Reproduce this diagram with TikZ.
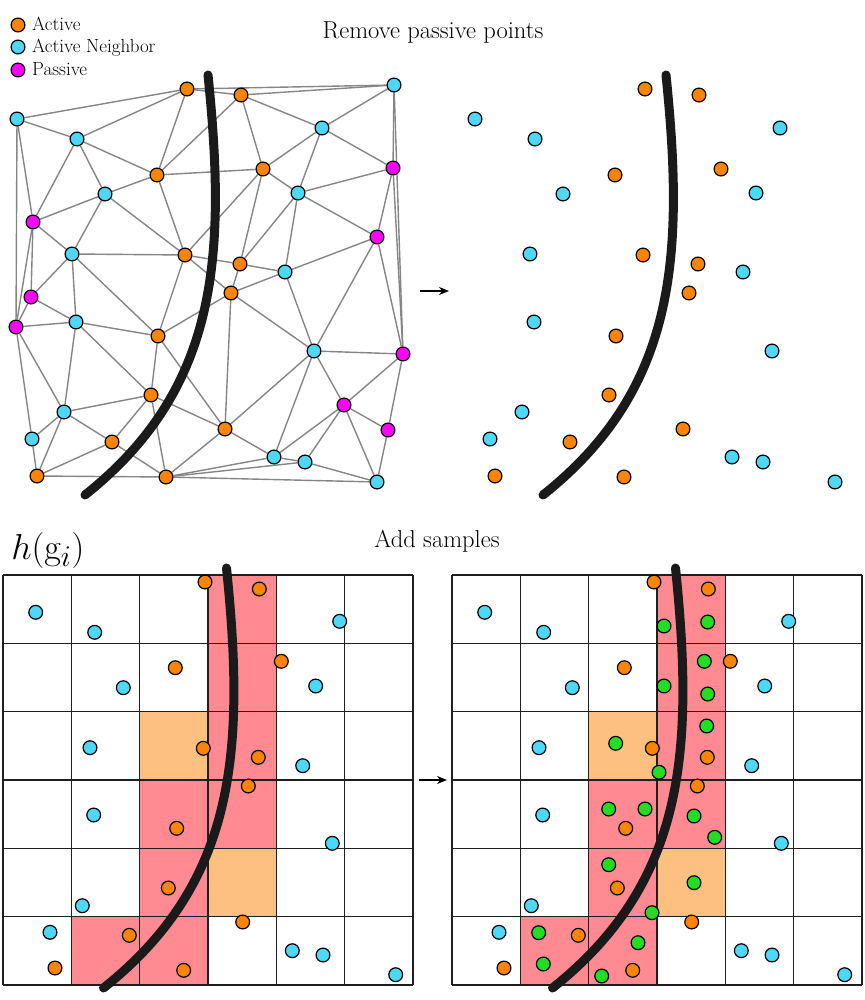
\documentclass[tikz,border=0pt]{standalone}
\usetikzlibrary{arrows.meta,backgrounds}
\definecolor{actc}{HTML}{FF8500}
\definecolor{nbc}{HTML}{4DD8F8}
\definecolor{pasc}{HTML}{FF00FF}
\definecolor{newc}{HTML}{22DD22}
\definecolor{hot}{HTML}{FF8A91}
\definecolor{warm}{HTML}{FEC080}
\definecolor{edgec}{HTML}{858585}
\definecolor{curvec}{HTML}{1A1A1A}
\newcommand\ttlfont{\fontsize{24.5}{29}\selectfont}
\newcommand\legfont{\fontsize{19}{23}\selectfont}
\tikzset{
 pt/.style={circle,draw=black,line width=1.2pt,minimum size=13.8pt,inner sep=0pt},
 act/.style={pt,fill=actc}, nb/.style={pt,fill=nbc}, pas/.style={pt,fill=pasc}, nw/.style={pt,fill=newc},
 edge/.style={draw=edgec,line width=1.4pt},
 bound/.style={draw=curvec,line width=9pt,line cap=round},
 gline/.style={draw=black!88,line width=1.6pt},
 flow/.style={-{Stealth[length=10pt,width=8pt]},line width=1.3pt},
}
\begin{document}
\begin{tikzpicture}[x=1pt,y=-1pt]
\useasboundingbox (0,0) rectangle (864,1000);
% titles and legend
\node[anchor=base] (t1) at (433,39) {\ttlfont Remove passive points};
\node[anchor=base] (t2) at (437,547) {\ttlfont Add samples};
\node[anchor=base west,inner sep=0pt,scale=1.45] (hg) at (11,559) {\fontsize{24.88}{30}\selectfont$h(\mathrm{g}_i)$};
\node[act] (L1) at (18,25) {};
\node[nb] (L2) at (18,47) {};
\node[pas] (L3) at (18,70) {};
\node[anchor=base west,inner sep=0pt] (L1t) at (32,31) {\legfont Active};
\node[anchor=base west,inner sep=0pt] (L2t) at (32,53) {\legfont Active Neighbor};
\node[anchor=base west,inner sep=0pt] (L3t) at (32,76) {\legfont Passive};
% top-left mesh nodes and top-right points
\foreach \n/\x/\y in {A1/187/89,A2/241/95,A3/157/175,A4/263/169,A5/185/255,A6/240/264,A7/231/293,A8/158/336,A9/151/395,A10/112/442,A11/37/476,A12/166/477,A13/225/429}
  {\node[act] (\n) at (\x,\y) {}; \node[act] (r\n) at ({\x+458},\y) {};}
\node[nb] (C1) at (394,85) {};
\foreach \n/\x/\y in {C2/17/119,C3/77/139,C4/322/128,C5/105/194,C6/298/193,C7/72/254,C8/285/272,C9/76/322,C10/314/351,C11/64/412,C12/32/439,C13/274/457,C14/305/462,C15/377/482}
  {\node[nb] (\n) at (\x,\y) {}; \node[nb] (r\n) at ({\x+458},\y) {};}
\foreach \n/\x/\y in {M1/393/168,M2/33/222,M3/377/237,M4/31/297,M5/16/327,M6/403/354,M7/344/405,M8/388/430}
  {\node[pas] (\n) at (\x,\y) {};}
\begin{pgfonlayer}{background}
\foreach \a/\b in {A1/C2,A1/C3,A1/A3,A1/A2,A1/C1,A2/C1,A2/C4,A2/A4,A2/A3,A3/A4,A3/A5,A3/C3,A3/C5,
  A4/C4,A4/C6,A4/A6,A4/A5,A5/C5,A5/C7,A5/A6,A5/A7,A5/A8,A6/A7,A6/C6,A6/C8,A7/C8,A7/C10,A7/A13,A7/A8,
  A8/C7,A8/C9,A8/A9,A8/A13,A9/C9,A9/C11,A9/A10,A9/A12,A9/A13,A10/C11,A10/A11,A10/A12,A11/C11,A11/C12,A11/A12,
  A12/A13,A12/C13,A12/C14,A12/C15,A13/C10,A13/C13,C1/C4,C1/M1,C1/M6,C2/C3,C2/M2,C2/M5,C3/C5,C3/M2,C4/C6,C4/M1,
  C5/M2,C5/C7,C6/C8,C6/M1,C6/M3,C7/M2,C7/M4,C7/C9,C8/C10,C8/M3,C9/M4,C9/M5,C9/C11,C10/M3,C10/M6,C10/M7,C10/C13,
  C11/M5,C11/C12,C12/M5,C13/C14,C13/M7,C14/C15,C14/M7,C15/M7,C15/M8,M1/M3,M1/M6,M2/M4,M2/M5,M3/M6,M4/M5,M6/M7,M6/M8,M7/M8}
  {\draw[edge] (\a) -- (\b);}
\draw[bound] (208,75) .. controls (227,260) and (217,390) .. (85,495);
\draw[bound] (666,75) .. controls (685,260) and (675,390) .. (543,495);
% bottom grids
\foreach \gx in {3,452}{
  \foreach \c/\r in {3/0,3/1,3/2,3/3,2/3,2/4,2/5,1/5}
    {\fill[hot] ({\gx+\c*68.333},{575+\r*68.333}) rectangle ++(68.333,68.333);}
  \foreach \c/\r in {2/2,3/4}
    {\fill[warm] ({\gx+\c*68.333},{575+\r*68.333}) rectangle ++(68.333,68.333);}
  \foreach \i in {0,...,6}
    {\draw[gline] ({\gx+\i*68.333},575) -- ({\gx+\i*68.333},985);
     \draw[gline] (\gx,{575+\i*68.333}) -- ({\gx+410},{575+\i*68.333});}
}
\draw[bound] (226.5,568) .. controls (245.5,753) and (235.5,883) .. (103.5,988);
\draw[bound] (675.5,568) .. controls (694.5,753) and (684.5,883) .. (552.5,988);
\end{pgfonlayer}
% bottom points
\foreach \x/\y [count=\i] in {35.7/612.3,94.7/632.3,339.7/621.3,123.3/687.7,315.7/686,90/747.7,302.7/765.7,93.7/815,332.3/843.3,82.3/905.7,50/932.3,292.3/950.7,323/955,395.7/974.7}
  {\node[nb] (bc\i) at (\x,\y) {}; \node[nb] (rbc\i) at ({\x+449},\y) {};}
\foreach \x/\y [count=\i] in {205/582,259.3/589,175.3/667.7,281.3/661.3,203.3/748.3,258.3/757.3,248.3/786,176.7/828.3,168.3/888,242.7/922,129.3/935.3,55/968,183.7/970.3}
  {\node[act] (ba\i) at (\x,\y) {}; \node[act] (rba\i) at ({\x+449},\y) {};}
\foreach \x/\y [count=\i] in {664/626,707.7/622,704.3/661.3,664/686,707.7/694,706.7/726,615.7/743.3,659/772.3,608.7/809,645/809,694/816,714.7/837.3,608.7/864.7,694/882.7,652/912.7,538.7/932.7,638/942.7,543.3/964,601.7/976}
  {\node[nw] (g\i) at (\x,\y) {};}
% arrows
\coordinate (a1s) at (420,291); \coordinate (a1e) at (449,291);
\coordinate (a2s) at (419,780); \coordinate (a2e) at (447,780);
\draw[flow] (a1s) -- (a1e);
\draw[flow] (a2s) -- (a2e);
\end{tikzpicture}
\end{document}
